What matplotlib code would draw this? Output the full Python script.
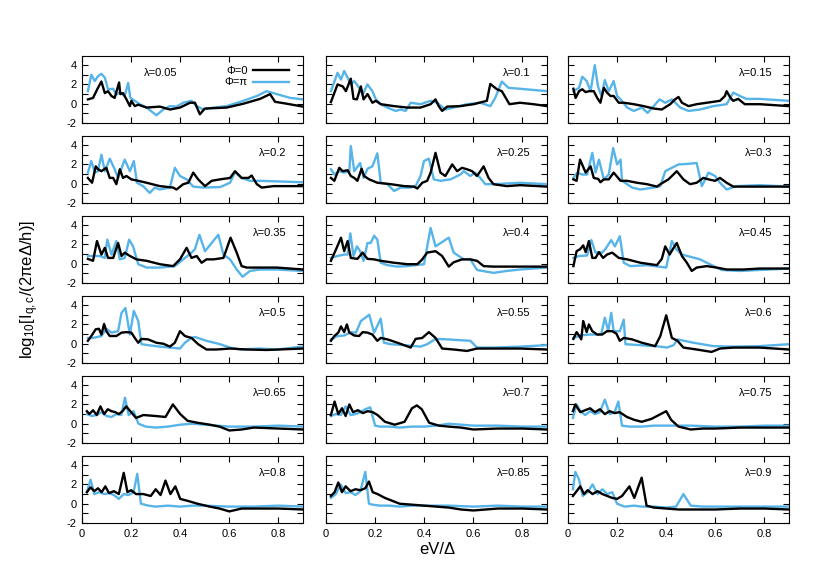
import matplotlib.pyplot as plt
import numpy as np

plt.rcParams['font.family'] = ['Liberation Sans', 'DejaVu Sans']
plt.rcParams['mathtext.fontset'] = 'custom'
plt.rcParams['mathtext.rm'] = 'Liberation Sans'
plt.rcParams['mathtext.it'] = 'Liberation Sans'

lambdas = ["0.05", "0.1", "0.15", "0.2", "0.25", "0.3",
           "0.35", "0.4", "0.45", "0.5", "0.55", "0.6",
           "0.65", "0.7", "0.75", "0.8", "0.85", "0.9"]

# lambda = 0.05
l005_zero_x = [0.024, 0.045, 0.065, 0.079, 0.093, 0.106, 0.12, 0.133, 0.151, 0.156, 0.167, 0.181, 0.188, 0.195, 0.201, 0.215, 0.229, 0.263, 0.317, 0.358, 0.399, 0.44, 0.46, 0.48, 0.5, 0.589, 0.657, 0.725, 0.766, 0.786, 0.834, 0.9]
l005_zero_y = [0.45, 0.6, 1.65, 2.3, 1.1, 1.3, 0.8, 0.6, 2.2, 1.0, 1.1, 0.45, 0.1, -0.25, 0.3, -0.25, -0.1, -0.4, -0.3, -0.6, -0.4, 0.1, 0.1, -1.1, -0.5, -0.4, 0.0, 0.5, 1.0, 0.2, 0.0, -0.3]
l005_pi_x = [0.024, 0.038, 0.052, 0.065, 0.079, 0.093, 0.106, 0.127, 0.14, 0.154, 0.174, 0.188, 0.197, 0.215, 0.235, 0.263, 0.303, 0.331, 0.358, 0.385, 0.412, 0.446, 0.467, 0.494, 0.535, 0.589, 0.657, 0.712, 0.752, 0.793, 0.848, 0.9]
l005_pi_y = [1.3, 3.0, 2.35, 2.85, 3.1, 2.7, 1.5, 1.55, 0.95, 1.15, 0.8, 2.15, 0.6, 0.3, -0.05, -0.4, -1.2, -0.6, -0.25, -0.3, 0.1, 0.3, -0.25, -0.6, -0.4, -0.25, 0.3, 0.8, 1.3, 1.0, 0.6, 0.45]

# lambda = 0.1
l010_zero_x = [0.02, 0.047, 0.068, 0.081, 0.101, 0.112, 0.126, 0.142, 0.153, 0.169, 0.189, 0.203, 0.223, 0.277, 0.331, 0.385, 0.426, 0.446, 0.459, 0.473, 0.493, 0.547, 0.601, 0.655, 0.669, 0.696, 0.716, 0.747, 0.79, 0.845, 0.9]
l010_zero_y = [0.17, 2.0, 1.8, 1.3, 2.6, 0.5, 0.45, 1.8, 0.45, 1.0, 0.1, 0.3, -0.05, -0.25, -0.4, -0.4, -0.05, 0.45, -0.25, -0.75, -0.3, -0.25, -0.05, 0.3, 2.05, 1.5, 1.3, -0.05, 0.1, -0.05, -0.25]
l010_pi_x = [0.02, 0.047, 0.061, 0.074, 0.088, 0.101, 0.115, 0.135, 0.149, 0.169, 0.189, 0.203, 0.223, 0.25, 0.284, 0.304, 0.324, 0.345, 0.385, 0.426, 0.453, 0.486, 0.52, 0.574, 0.628, 0.669, 0.689, 0.716, 0.743, 0.79, 0.9]
l010_pi_y = [1.3, 3.2, 2.5, 3.4, 2.7, 2.0, 2.35, 1.65, 0.95, 2.0, 1.3, 0.45, -0.05, -0.4, -0.75, -0.6, -0.75, 0.1, -0.05, 0.3, 0.1, -0.6, -0.4, -0.05, 0.1, -0.25, 0.6, 2.3, 1.65, 1.55, 1.3]

# lambda = 0.15
l015_zero_x = [0.022, 0.031, 0.045, 0.058, 0.072, 0.085, 0.105, 0.119, 0.132, 0.146, 0.159, 0.173, 0.186, 0.207, 0.227, 0.268, 0.308, 0.349, 0.382, 0.416, 0.436, 0.45, 0.464, 0.491, 0.524, 0.565, 0.619, 0.639, 0.646, 0.662, 0.673, 0.693, 0.72, 0.781, 0.9]
l015_zero_y = [1.55, 0.6, 1.3, 1.5, 1.2, 1.3, 1.3, 0.6, 0.1, 1.65, 1.15, 0.8, 0.8, 0.1, 0.1, -0.05, -0.25, -0.5, -0.6, -0.05, 0.45, 0.7, 0.1, -0.25, -0.05, 0.1, 0.3, 0.8, 1.3, 0.6, 0.3, 0.5, -0.05, -0.05, -0.25]
l015_pi_x = [0.022, 0.045, 0.058, 0.076, 0.092, 0.109, 0.122, 0.136, 0.15, 0.166, 0.186, 0.2, 0.214, 0.241, 0.268, 0.301, 0.324, 0.349, 0.373, 0.396, 0.423, 0.457, 0.491, 0.538, 0.592, 0.646, 0.673, 0.7, 0.727, 0.781, 0.9]
l015_pi_y = [1.3, 1.65, 2.8, 2.35, 1.3, 4.0, 1.8, 0.8, 2.45, 1.3, 2.35, 0.8, 0.45, -0.4, -0.75, -0.4, -0.95, -0.25, 0.45, 0.1, 0.45, -0.4, -0.75, -0.6, -0.25, -0.05, 1.15, 0.8, 0.5, 0.5, 0.3]

# lambda = 0.2
l020_zero_x = [0.024, 0.041, 0.056, 0.065, 0.079, 0.099, 0.113, 0.127, 0.14, 0.154, 0.167, 0.181, 0.201, 0.229, 0.263, 0.317, 0.371, 0.385, 0.412, 0.433, 0.453, 0.473, 0.501, 0.528, 0.562, 0.603, 0.623, 0.65, 0.678, 0.691, 0.712, 0.732, 0.78, 0.9]
l020_zero_y = [0.6, 0.1, 1.8, 1.5, 1.3, 1.65, 0.6, 0.6, -0.05, 1.5, 0.6, 0.8, 0.45, 0.3, 0.1, -0.25, -0.4, -0.6, -0.05, 0.1, 1.15, 0.45, -0.25, 0.3, 0.45, 0.6, 1.3, 0.6, 0.6, 0.85, -0.05, -0.4, -0.25, -0.25]
l020_pi_x = [0.024, 0.038, 0.052, 0.065, 0.079, 0.093, 0.113, 0.133, 0.147, 0.174, 0.195, 0.211, 0.224, 0.249, 0.276, 0.297, 0.317, 0.358, 0.378, 0.399, 0.426, 0.453, 0.494, 0.562, 0.603, 0.623, 0.65, 0.684, 0.725, 0.9]
l020_pi_y = [1.15, 2.35, 1.15, 1.3, 3.0, 1.3, 2.6, 1.5, 0.6, 2.5, 1.3, 2.35, 0.1, -0.25, -0.95, -0.4, -0.6, -0.4, 1.65, 0.8, 0.45, -0.3, -0.4, -0.35, 0.1, 1.2, 0.6, 0.3, 0.3, 0.15]

# lambda = 0.25
l025_zero_x = [0.02, 0.034, 0.054, 0.068, 0.088, 0.101, 0.115, 0.128, 0.145, 0.155, 0.176, 0.209, 0.264, 0.318, 0.358, 0.372, 0.392, 0.412, 0.426, 0.446, 0.466, 0.486, 0.514, 0.534, 0.554, 0.574, 0.595, 0.615, 0.642, 0.662, 0.682, 0.736, 0.791, 0.9]
l025_zero_y = [0.6, 0.3, 1.65, 1.3, 1.4, 0.8, 0.6, 0.3, 1.55, 0.8, 0.45, 0.1, -0.05, -0.25, -0.3, -0.5, 0.1, 0.3, 1.15, 3.2, 1.15, 0.8, 2.0, 1.3, 1.65, 1.5, 1.3, 0.8, 1.8, 0.6, -0.05, -0.25, -0.15, -0.3]
l025_pi_x = [0.02, 0.034, 0.054, 0.074, 0.095, 0.101, 0.115, 0.139, 0.153, 0.169, 0.189, 0.209, 0.223, 0.25, 0.277, 0.304, 0.345, 0.365, 0.385, 0.399, 0.419, 0.439, 0.466, 0.507, 0.547, 0.561, 0.588, 0.608, 0.628, 0.649, 0.682, 0.791, 0.9]
l025_pi_y = [1.5, 0.95, 1.3, 1.15, 1.3, 3.9, 1.3, 2.15, 0.6, 1.55, 1.8, 3.15, 0.1, -0.05, -0.75, -0.4, -0.4, -0.25, 0.8, 2.35, 2.6, 0.45, 0.3, 0.45, 0.95, 1.3, 0.8, 1.15, 0.6, -0.05, -0.05, 0.1, -0.05]

# lambda = 0.3
l030_zero_x = [0.022, 0.035, 0.049, 0.072, 0.092, 0.105, 0.123, 0.132, 0.146, 0.166, 0.186, 0.214, 0.241, 0.281, 0.322, 0.362, 0.376, 0.409, 0.443, 0.47, 0.497, 0.524, 0.551, 0.572, 0.599, 0.619, 0.646, 0.673, 0.727, 0.9]
l030_zero_y = [0.45, 0.3, 2.5, 1.15, 1.8, 0.6, 0.5, 0.15, 0.45, 0.45, 1.15, 0.3, 0.3, 0.1, -0.05, -0.3, -0.05, 0.45, 1.3, 0.45, -0.05, 0.1, 0.6, 0.45, 0.3, 0.6, 0.1, -0.3, -0.3, -0.3]
l030_pi_x = [0.022, 0.038, 0.058, 0.078, 0.099, 0.112, 0.126, 0.146, 0.166, 0.184, 0.2, 0.214, 0.22, 0.241, 0.261, 0.295, 0.349, 0.376, 0.396, 0.423, 0.45, 0.484, 0.524, 0.545, 0.572, 0.599, 0.619, 0.646, 0.686, 0.781, 0.9]
l030_pi_y = [0.6, 1.15, 0.95, 0.95, 3.2, 1.15, 2.5, 0.45, 0.95, 3.7, 2.0, 2.5, 0.3, -0.05, -0.4, -0.6, -0.4, -0.25, 1.3, 1.65, 2.0, 2.05, 2.15, -0.25, 1.15, 0.8, 0.1, -0.6, -0.25, -0.15, -0.3]

# lambda = 0.35
l035_zero_x = [0.024, 0.045, 0.061, 0.079, 0.093, 0.106, 0.127, 0.147, 0.161, 0.174, 0.195, 0.222, 0.263, 0.317, 0.371, 0.399, 0.426, 0.446, 0.467, 0.487, 0.507, 0.535, 0.576, 0.605, 0.63, 0.65, 0.671, 0.793, 0.9]
l035_zero_y = [0.5, 0.3, 2.35, 0.95, 1.65, 0.6, 0.6, 2.15, 0.8, 1.15, 0.8, 0.45, 0.3, -0.05, -0.25, 0.45, 1.65, 0.6, 0.8, 0.1, 0.45, 0.45, 0.6, 2.7, 1.15, -0.25, -0.4, -0.4, -0.6]
l035_pi_x = [0.024, 0.045, 0.072, 0.093, 0.103, 0.12, 0.14, 0.154, 0.174, 0.192, 0.208, 0.229, 0.263, 0.317, 0.378, 0.412, 0.446, 0.46, 0.478, 0.501, 0.555, 0.576, 0.603, 0.63, 0.654, 0.684, 0.725, 0.793, 0.9]
l035_pi_y = [0.8, 0.8, 0.8, 0.6, 2.5, 0.95, 2.35, 0.45, 0.6, 2.5, 1.8, -0.05, -0.4, -0.4, -0.25, 0.45, 1.15, 1.5, 3.0, 1.3, 3.0, 0.95, 0.45, -0.6, -1.35, -0.75, -0.6, -0.6, -0.75]

# lambda = 0.4
l040_zero_x = [0.02, 0.041, 0.061, 0.074, 0.088, 0.101, 0.128, 0.149, 0.169, 0.196, 0.223, 0.277, 0.331, 0.372, 0.392, 0.412, 0.446, 0.473, 0.5, 0.52, 0.554, 0.588, 0.615, 0.642, 0.682, 0.791, 0.9]
l040_zero_y = [0.3, 1.5, 2.7, 1.3, 2.35, 0.6, 0.5, 1.15, 0.5, 0.45, 0.3, 0.1, -0.05, -0.05, 0.45, 1.15, 1.3, 0.8, -0.3, 0.15, 0.45, 0.45, 0.3, -0.25, -0.3, -0.3, -0.3]
l040_pi_x = [0.02, 0.047, 0.074, 0.088, 0.099, 0.112, 0.126, 0.139, 0.153, 0.169, 0.182, 0.196, 0.209, 0.223, 0.25, 0.291, 0.331, 0.365, 0.399, 0.426, 0.446, 0.5, 0.52, 0.561, 0.588, 0.615, 0.682, 0.736, 0.791, 0.9]
l040_pi_y = [0.6, 0.8, 0.95, 0.95, 3.15, 0.8, 1.8, 1.3, 0.3, 2.15, 2.15, 2.9, 2.5, 0.1, -0.15, -0.3, -0.25, -0.15, -0.05, 3.7, 1.8, 2.7, 1.15, 0.45, 0.45, -0.65, -0.95, -0.75, -0.6, -0.4]

# lambda = 0.45
l045_zero_x = [0.022, 0.035, 0.049, 0.062, 0.072, 0.085, 0.099, 0.112, 0.126, 0.143, 0.159, 0.18, 0.207, 0.241, 0.295, 0.362, 0.382, 0.396, 0.414, 0.43, 0.443, 0.464, 0.484, 0.504, 0.524, 0.565, 0.605, 0.646, 0.714, 0.781, 0.9]
l045_zero_y = [-0.25, 1.3, 1.5, 1.9, 1.2, 2.35, 0.6, 0.6, 1.2, 0.6, 0.95, 1.15, 0.6, 0.45, 0.1, -0.15, 0.5, 1.8, 0.95, 1.65, 2.15, 0.8, 0.1, -0.75, -0.4, -0.25, -0.4, -0.6, -0.6, -0.5, -0.5]
l045_pi_x = [0.022, 0.045, 0.078, 0.095, 0.112, 0.126, 0.139, 0.153, 0.176, 0.191, 0.211, 0.227, 0.254, 0.322, 0.4, 0.423, 0.441, 0.464, 0.538, 0.605, 0.626, 0.7, 0.781, 0.9]
l045_pi_y = [0.6, 0.8, 0.85, 2.45, 1.15, 1.2, 1.15, 1.55, 2.45, 1.8, 2.85, 0.1, -0.25, -0.15, -0.4, 2.35, 1.5, 0.95, 0.45, -0.4, -0.65, -0.75, -0.65, -0.5]

# lambda = 0.5
l050_zero_x = [0.024, 0.038, 0.056, 0.069, 0.079, 0.09, 0.099, 0.113, 0.14, 0.161, 0.181, 0.201, 0.215, 0.229, 0.242, 0.269, 0.303, 0.331, 0.358, 0.378, 0.399, 0.419, 0.446, 0.473, 0.507, 0.548, 0.603, 0.671, 0.752, 0.9]
l050_zero_y = [0.3, 0.8, 1.5, 1.55, 0.95, 2.05, 1.3, 0.8, 0.8, 1.15, 1.2, 1.15, 0.6, 0.1, 0.5, 0.45, 0.1, 0.0, -0.3, 0.1, 1.3, 0.8, 0.6, -0.05, -0.6, -0.6, -0.5, -0.6, -0.65, -0.5]
l050_pi_x = [0.024, 0.045, 0.079, 0.099, 0.12, 0.147, 0.161, 0.177, 0.195, 0.211, 0.229, 0.242, 0.269, 0.317, 0.399, 0.419, 0.446, 0.46, 0.507, 0.562, 0.603, 0.644, 0.725, 0.793, 0.9]
l050_pi_y = [0.6, 0.6, 0.8, 1.55, 1.15, 1.3, 3.2, 3.7, 0.95, 3.4, 2.35, -0.05, -0.15, -0.3, -0.5, 0.1, 0.6, 0.7, 0.3, -0.05, -0.4, -0.6, -0.5, -0.6, -0.3]

# lambda = 0.55
l055_zero_x = [0.02, 0.034, 0.05, 0.061, 0.074, 0.085, 0.095, 0.115, 0.135, 0.149, 0.169, 0.189, 0.209, 0.223, 0.25, 0.291, 0.345, 0.365, 0.392, 0.419, 0.446, 0.473, 0.52, 0.574, 0.615, 0.682, 0.791, 0.9]
l055_zero_y = [0.3, 0.8, 1.15, 1.8, 1.2, 2.0, 1.15, 0.85, 0.8, 1.2, 1.15, 0.95, 0.3, 0.6, 0.45, 0.1, -0.4, 0.5, 0.6, 1.2, 0.6, -0.5, -0.6, -0.75, -0.5, -0.5, -0.5, -0.6]
l055_pi_x = [0.02, 0.047, 0.074, 0.101, 0.122, 0.142, 0.176, 0.196, 0.223, 0.236, 0.264, 0.318, 0.385, 0.412, 0.446, 0.493, 0.588, 0.615, 0.682, 0.791, 0.9]
l055_pi_y = [0.45, 0.8, 0.85, 1.2, 1.15, 2.35, 3.0, 1.15, 2.6, 0.1, -0.05, -0.15, -0.3, -0.05, 0.5, 0.45, 0.3, -0.4, -0.4, -0.3, -0.15]

# lambda = 0.6
l060_zero_x = [0.022, 0.035, 0.045, 0.054, 0.062, 0.076, 0.085, 0.099, 0.119, 0.139, 0.159, 0.18, 0.197, 0.211, 0.227, 0.261, 0.301, 0.355, 0.376, 0.4, 0.423, 0.446, 0.47, 0.524, 0.585, 0.619, 0.673, 0.781, 0.9]
l060_zero_y = [0.5, 1.2, 0.85, 0.45, 2.35, 1.2, 2.0, 1.3, 0.95, 0.95, 1.3, 1.3, 1.05, 0.3, 0.6, 0.45, 0.1, -0.25, 0.8, 2.95, 0.6, 0.3, -0.4, -0.6, -0.85, -0.5, -0.4, -0.4, -0.6]
l060_pi_x = [0.022, 0.051, 0.085, 0.119, 0.136, 0.15, 0.164, 0.176, 0.186, 0.211, 0.227, 0.234, 0.295, 0.376, 0.403, 0.43, 0.446, 0.511, 0.592, 0.673, 0.781, 0.9]
l060_pi_y = [0.6, 0.85, 0.95, 0.95, 1.05, 2.7, 1.3, 3.2, 1.3, 1.3, 2.5, -0.05, -0.15, -0.3, -0.4, -0.15, 0.45, 0.1, -0.25, -0.3, -0.25, -0.05]

# lambda = 0.65
l065_zero_x = [0.02, 0.03, 0.045, 0.06, 0.075, 0.09, 0.105, 0.12, 0.135, 0.15, 0.165, 0.18, 0.2, 0.22, 0.25, 0.3, 0.34, 0.37, 0.4, 0.43, 0.47, 0.52, 0.56, 0.6, 0.65, 0.7, 0.8, 0.9]
l065_zero_y = [1.3, 1.0, 1.4, 0.9, 1.8, 1.0, 1.5, 1.3, 1.2, 1.0, 1.3, 1.8, 1.2, 0.6, 0.9, 0.8, 0.7, 2.0, 1.0, 0.3, 0.1, -0.1, -0.3, -0.7, -0.6, -0.4, -0.5, -0.6]
l065_pi_x = [0.02, 0.04, 0.06, 0.08, 0.1, 0.12, 0.14, 0.16, 0.175, 0.19, 0.21, 0.23, 0.26, 0.3, 0.35, 0.4, 0.45, 0.5, 0.55, 0.6, 0.7, 0.8, 0.9]
l065_pi_y = [1.0, 0.8, 0.9, 1.2, 0.8, 0.7, 1.0, 0.9, 2.7, 0.9, 1.3, 0.0, -0.3, -0.4, -0.3, -0.1, 0.0, -0.1, -0.2, -0.3, -0.3, -0.2, -0.3]

# lambda = 0.7
l070_zero_x = [0.02, 0.035, 0.05, 0.065, 0.08, 0.095, 0.11, 0.13, 0.15, 0.17, 0.19, 0.21, 0.24, 0.28, 0.32, 0.35, 0.37, 0.39, 0.42, 0.46, 0.5, 0.55, 0.6, 0.7, 0.8, 0.9]
l070_zero_y = [0.9, 2.3, 1.0, 1.6, 0.8, 2.0, 1.2, 1.4, 1.1, 1.3, 1.2, 0.9, 0.2, -0.1, 0.2, 1.6, 1.9, 1.5, 0.1, -0.2, -0.3, -0.4, -0.6, -0.5, -0.5, -0.6]
l070_pi_x = [0.02, 0.04, 0.06, 0.08, 0.1, 0.12, 0.14, 0.16, 0.18, 0.2, 0.22, 0.26, 0.3, 0.35, 0.4, 0.45, 0.5, 0.55, 0.6, 0.7, 0.8, 0.9]
l070_pi_y = [0.8, 1.0, 0.9, 1.8, 0.9, 1.0, 1.2, 1.5, 1.7, -0.2, -0.3, -0.3, -0.4, -0.3, -0.3, -0.2, 0.0, -0.1, -0.2, -0.2, -0.3, -0.3]

# lambda = 0.75
l075_zero_x = [0.02, 0.03, 0.05, 0.07, 0.09, 0.11, 0.13, 0.15, 0.17, 0.19, 0.21, 0.24, 0.27, 0.3, 0.34, 0.37, 0.4, 0.42, 0.45, 0.5, 0.55, 0.6, 0.7, 0.8, 0.9]
l075_zero_y = [1.3, 2.0, 1.2, 1.4, 1.6, 1.2, 1.5, 1.0, 1.3, 1.1, 1.2, 0.7, 0.4, 0.2, 0.5, 0.9, 1.3, 0.4, -0.3, -0.6, -0.5, -0.5, -0.4, -0.4, -0.4]
l075_pi_x = [0.02, 0.035, 0.05, 0.07, 0.09, 0.11, 0.13, 0.15, 0.17, 0.19, 0.205, 0.22, 0.25, 0.3, 0.35, 0.4, 0.5, 0.6, 0.7, 0.8, 0.9]
l075_pi_y = [0.6, 2.0, 1.3, 0.9, 1.3, 1.0, 1.2, 2.5, 1.0, 1.2, 2.3, -0.2, -0.3, -0.3, -0.2, -0.2, -0.2, -0.3, -0.3, -0.2, -0.2]

# lambda = 0.8
l080_zero_x = [0.02, 0.035, 0.05, 0.065, 0.08, 0.095, 0.11, 0.13, 0.15, 0.17, 0.185, 0.2, 0.22, 0.25, 0.28, 0.3, 0.32, 0.34, 0.36, 0.38, 0.4, 0.43, 0.47, 0.52, 0.56, 0.6, 0.65, 0.7, 0.8, 0.9]
l080_zero_y = [1.2, 1.7, 1.3, 1.6, 1.2, 1.8, 1.1, 1.3, 1.0, 3.2, 1.2, 1.4, 1.0, 1.0, 0.8, 1.5, 0.9, 2.4, 1.0, 1.8, 0.5, 0.3, 0.0, -0.3, -0.5, -0.8, -0.5, -0.5, -0.5, -0.6]
l080_pi_x = [0.02, 0.035, 0.05, 0.07, 0.09, 0.11, 0.13, 0.15, 0.17, 0.19, 0.21, 0.225, 0.24, 0.27, 0.3, 0.35, 0.4, 0.45, 0.5, 0.6, 0.7, 0.8, 0.9]
l080_pi_y = [1.2, 2.5, 1.0, 1.2, 1.0, 1.1, 0.9, 0.5, 1.0, 0.9, 1.2, 3.1, 0.0, -0.2, -0.3, -0.2, -0.3, -0.2, -0.2, -0.3, -0.3, -0.2, -0.3]

# lambda = 0.85
l085_zero_x = [0.02, 0.035, 0.05, 0.065, 0.08, 0.1, 0.12, 0.14, 0.16, 0.175, 0.19, 0.21, 0.24, 0.27, 0.3, 0.35, 0.4, 0.45, 0.5, 0.55, 0.6, 0.7, 0.8, 0.9]
l085_zero_y = [0.8, 1.2, 2.2, 1.2, 1.8, 1.3, 1.5, 1.4, 1.6, 2.3, 1.2, 1.0, 0.6, 0.3, 0.0, -0.1, -0.2, -0.3, -0.4, -0.6, -0.7, -0.5, -0.5, -0.6]
l085_pi_x = [0.02, 0.04, 0.06, 0.08, 0.1, 0.12, 0.14, 0.16, 0.175, 0.19, 0.22, 0.26, 0.3, 0.35, 0.4, 0.5, 0.6, 0.7, 0.8, 0.9]
l085_pi_y = [0.6, 1.0, 2.0, 1.1, 1.2, 0.9, 1.3, 3.3, 0.0, -0.1, -0.2, -0.2, -0.3, -0.2, -0.2, -0.2, -0.3, -0.2, -0.3, -0.3]

# lambda = 0.9
l090_zero_x = [0.02, 0.035, 0.05, 0.065, 0.08, 0.1, 0.12, 0.14, 0.16, 0.18, 0.2, 0.22, 0.25, 0.27, 0.3, 0.32, 0.35, 0.4, 0.45, 0.5, 0.6, 0.7, 0.8, 0.9]
l090_zero_y = [0.8, 1.3, 1.8, 1.0, 1.4, 1.0, 1.3, 1.0, 0.8, 0.6, 0.5, 0.8, 1.8, 0.6, 2.7, -0.2, -0.4, -0.5, -0.6, -0.6, -0.6, -0.5, -0.5, -0.6]
l090_pi_x = [0.02, 0.03, 0.045, 0.06, 0.08, 0.1, 0.12, 0.14, 0.16, 0.18, 0.2, 0.23, 0.27, 0.3, 0.35, 0.4, 0.44, 0.47, 0.5, 0.55, 0.6, 0.7, 0.8, 0.9]
l090_pi_y = [1.5, 3.3, 2.5, 0.8, 1.2, 2.0, 1.0, 1.5, 1.0, 1.2, 0.0, -0.3, -0.2, -0.3, -0.3, -0.4, -0.3, 1.0, -0.2, -0.3, -0.3, -0.3, -0.3, -0.3]

panels = [
    (l005_zero_x, l005_zero_y, l005_pi_x, l005_pi_y),
    (l010_zero_x, l010_zero_y, l010_pi_x, l010_pi_y),
    (l015_zero_x, l015_zero_y, l015_pi_x, l015_pi_y),
    (l020_zero_x, l020_zero_y, l020_pi_x, l020_pi_y),
    (l025_zero_x, l025_zero_y, l025_pi_x, l025_pi_y),
    (l030_zero_x, l030_zero_y, l030_pi_x, l030_pi_y),
    (l035_zero_x, l035_zero_y, l035_pi_x, l035_pi_y),
    (l040_zero_x, l040_zero_y, l040_pi_x, l040_pi_y),
    (l045_zero_x, l045_zero_y, l045_pi_x, l045_pi_y),
    (l050_zero_x, l050_zero_y, l050_pi_x, l050_pi_y),
    (l055_zero_x, l055_zero_y, l055_pi_x, l055_pi_y),
    (l060_zero_x, l060_zero_y, l060_pi_x, l060_pi_y),
    (l065_zero_x, l065_zero_y, l065_pi_x, l065_pi_y),
    (l070_zero_x, l070_zero_y, l070_pi_x, l070_pi_y),
    (l075_zero_x, l075_zero_y, l075_pi_x, l075_pi_y),
    (l080_zero_x, l080_zero_y, l080_pi_x, l080_pi_y),
    (l085_zero_x, l085_zero_y, l085_pi_x, l085_pi_y),
    (l090_zero_x, l090_zero_y, l090_pi_x, l090_pi_y),
]

BLUE = '#56b4e9'
W, H = 830, 581
lefts = [82, 326, 568]

fig = plt.figure(figsize=(8.3, 5.81), dpi=100)

for i, (zx, zy, px, py) in enumerate(panels):
    r, c = divmod(i, 3)
    top = 55.5 + 80 * r
    ax = fig.add_axes([lefts[c] / W, (H - top - 67.5) / H, 221 / W, 67.5 / H])

    ax.plot(zx, zy, color='black', lw=1.7, label='Φ=0', zorder=3)
    ax.plot(px, py, color=BLUE, lw=1.7, label='Φ=π', zorder=2)

    ax.set_xlim(0, 0.9)
    ax.set_ylim(-2, 5)
    ax.set_xticks([0, 0.2, 0.4, 0.6, 0.8])
    ax.set_yticks([-2, 0, 2, 4])
    ax.set_yticks([-1, 1, 3], minor=True)
    ax.tick_params(which='both', direction='in', top=True, right=True,
                   length=4, width=0.8, labelsize=8, pad=4)
    for s in ax.spines.values():
        s.set_linewidth(0.8)

    if r == 5:
        ax.set_xticklabels(['0', '0.2', '0.4', '0.6', '0.8'])
    else:
        ax.set_xticklabels([])
    if c == 0:
        ax.set_yticklabels(['-2', '0', '2', '4'])
    else:
        ax.set_yticklabels([])

    if i == 0:
        ax.text(0.355, 0.74, 'λ=' + lambdas[i], transform=ax.transAxes,
                ha='center', va='center', fontsize=8)
        ax.legend(loc='upper right', bbox_to_anchor=(0.96, 0.93), frameon=False,
                  markerfirst=False, handlelength=3.2, fontsize=8,
                  labelspacing=0.15, borderpad=0, handletextpad=0.5)
    else:
        ax.text(0.925, 0.74, 'λ=' + lambdas[i], transform=ax.transAxes,
                ha='right', va='center', fontsize=8)

fig.text(30 / W, 0.502, r'log$_{10}$[I$_{\mathrm{q,c}}$/(2πeΔ/h)]', rotation=90,
         ha='center', va='center', fontsize=12)
fig.text(437 / W, (H - 549) / H, 'eV/Δ', ha='center', va='center', fontsize=12)

fig.savefig('out.png', dpi=100)
